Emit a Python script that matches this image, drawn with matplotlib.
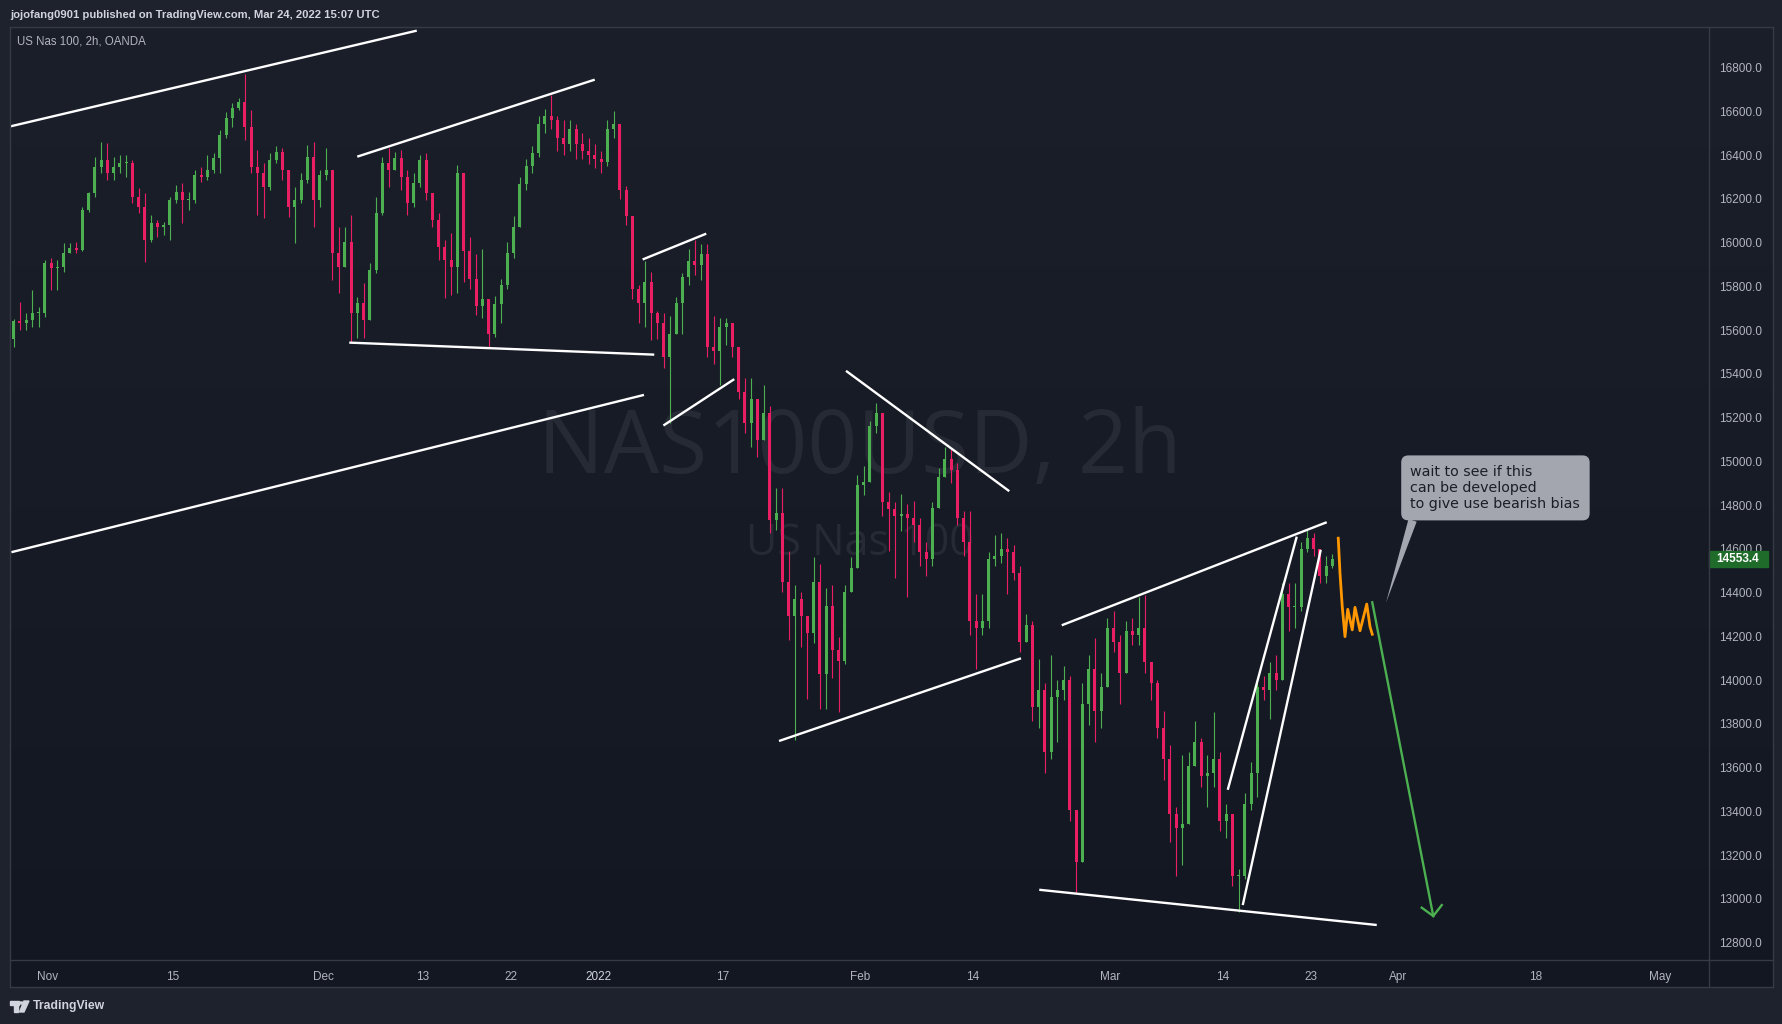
import numpy as np
import pandas as pd
import matplotlib
matplotlib.use("Agg")
import matplotlib.pyplot as plt
from matplotlib.patches import Rectangle, Polygon, Circle
import matplotlib.transforms as mtransforms

# ---- data: US Nas 100 (OANDA), half-day bars ----
start_day = "2021-10-27"
first_open = 15560
hi = [15650, 15730, 15677, 15784, 15708, 15921, 15928, 15921, 15997, 15997,
      16005, 16165, 16233, 16393, 16462, 16454, 16393, 16401, 16401, 16378,
      16248, 16226, 16126, 16104, 16096, 16210, 16264, 16271, 16233, 16332,
      16347, 16401, 16408, 16515, 16599, 16637, 16660, 16771, 16606, 16424,
      16363, 16408, 16442, 16431, 16317, 16256, 16317, 16447, 16462, 16332,
      16431, 16317, 16073, 16073, 16126, 15753, 15814, 15906, 16210, 16393,
      16431, 16416, 16424, 16332, 16317, 16401, 16408, 16226, 16134, 16012,
      16043, 16355, 16300, 16025, 15947, 15970, 15726, 15758, 15836, 16002,
      16120, 16300, 16380, 16440, 16580, 16610, 16675, 16580, 16560, 16560,
      16540, 16500, 16480, 16450, 16420, 16560, 16600, 16540, 16260, 16120,
      15805, 15915, 15867, 15687, 15679, 15663, 15750, 15860, 15970, 16010,
      15993, 15993, 15663, 15656, 15656, 15632, 15490, 15380, 15380, 15254,
      15349, 15254, 14877, 14877, 14592, 14435, 14403, 14277, 14561, 14529,
      14420, 14435, 14199, 14435, 14561, 14939, 14979, 15183, 15269, 15175,
      14860, 14814, 14852, 14805, 14821, 14743, 14632, 14813, 14970, 15065,
      15057, 14994, 14774, 14774, 14396, 14396, 14585, 14663, 14671, 14648,
      14617, 14522, 14302, 14270, 14097, 13986, 14113, 14002, 14065, 14019,
      13405, 13986, 14113, 14191, 14034, 14286, 14317, 14207, 14270, 14286,
      14380, 14388, 14065, 14002, 13860, 13703, 13420, 13656, 13672, 13814,
      13734, 13656, 13853, 13672, 13436, 13279, 13136, 13483, 13625, 14002,
      14019, 14082, 14113, 14443, 14443, 14443, 14632, 14687, 14671, 14600,
      14569, 14577]
lo = [15525, 15600, 15600, 15616, 15616, 15660, 15784, 15784, 15868, 15951,
      15951, 15960, 16140, 16210, 16317, 16286, 16286, 16317, 16302, 16180,
      16134, 15913, 16005, 16027, 16035, 16012, 16180, 16088, 16149, 16180,
      16279, 16286, 16317, 16317, 16480, 16530, 16606, 16469, 16317, 16126,
      16111, 16240, 16363, 16286, 16119, 15997, 16180, 16271, 16073, 16165,
      16286, 15829, 15768, 15906, 15540, 15563, 15563, 15646, 15860, 16126,
      16256, 16332, 16241, 16126, 16165, 16256, 16195, 16073, 15921, 15746,
      15761, 15768, 15821, 15789, 15671, 15656, 15521, 15569, 15632, 15789,
      15930, 16080, 16240, 16320, 16390, 16500, 16520, 16420, 16400, 16420,
      16380, 16380, 16360, 16340, 16320, 16350, 16480, 16200, 16080, 15742,
      15632, 15616, 15553, 15561, 15427, 15175, 15584, 15584, 15805, 15852,
      15828, 15475, 15443, 15349, 15530, 15475, 15286, 15128, 15065, 15018,
      15097, 14671, 14688, 14403, 14183, 13727, 14152, 13916, 14168, 13868,
      13868, 14011, 13853, 14073, 14420, 14514, 14845, 15002, 15128, 14751,
      14592, 14466, 14680, 14380, 14632, 14522, 14475, 14522, 14789, 14947,
      14900, 14711, 14569, 14207, 14050, 14207, 14239, 14522, 14537, 14396,
      14459, 14128, 14223, 13814, 13782, 13577, 13640, 13719, 13908, 13357,
      13027, 13168, 13797, 13719, 13782, 14050, 14128, 13892, 14034, 14160,
      14160, 14034, 13908, 13734, 13546, 13262, 13105, 13153, 13342, 13640,
      13514, 13420, 13514, 13310, 13279, 13058, 12940, 13090, 13405, 13467,
      13908, 13821, 13955, 14113, 14223, 14239, 14317, 14585, 14569, 14443,
      14443, 14514]
cl = [15640, 15631, 15646, 15677, 15677, 15906, 15883, 15890, 15951, 15974,
      15966, 16149, 16226, 16347, 16378, 16317, 16347, 16363, 16363, 16210,
      16165, 16012, 16088, 16073, 16081, 16195, 16233, 16195, 16195, 16309,
      16302, 16332, 16385, 16492, 16568, 16614, 16645, 16530, 16347, 16317,
      16256, 16378, 16416, 16332, 16165, 16195, 16286, 16393, 16195, 16309,
      16332, 15951, 15890, 16005, 15677, 15723, 15646, 15875, 16134, 16363,
      16332, 16385, 16302, 16180, 16271, 16378, 16226, 16104, 15982, 15921,
      15890, 16317, 15962, 15836, 15710, 15742, 15584, 15719, 15805, 15954,
      16073, 16270, 16350, 16410, 16540, 16580, 16560, 16480, 16450, 16520,
      16450, 16420, 16400, 16380, 16370, 16520, 16540, 16240, 16120, 15789,
      15726, 15821, 15679, 15632, 15475, 15584, 15726, 15845, 15915, 15899,
      15947, 15521, 15506, 15616, 15632, 15521, 15317, 15175, 15286, 15097,
      15223, 14734, 14766, 14451, 14294, 14372, 14294, 14215, 14451, 14026,
      14340, 14136, 14089, 14403, 14514, 14892, 14908, 15160, 15223, 14814,
      14782, 14751, 14758, 14743, 14711, 14585, 14554, 14789, 14931, 15010,
      14963, 14743, 14632, 14270, 14239, 14270, 14554, 14569, 14600, 14585,
      14491, 14176, 14254, 13877, 13955, 13671, 13923, 13955, 14002, 13405,
      13168, 13892, 14050, 13860, 13971, 14239, 14176, 14034, 14223, 14207,
      14239, 14082, 13986, 13782, 13640, 13388, 13325, 13342, 13609, 13719,
      13562, 13577, 13640, 13357, 13388, 13105, 13105, 13436, 13577, 13971,
      13955, 14034, 14002, 14396, 14333, 14333, 14600, 14648, 14600, 14474,
      14522, 14553.4]
last_price = 14553.4

# drawn trendlines, (day position, price) pairs
trendlines = [
    ((-3.04, 16531), (29.5, 16969)),
    ((24.74, 16393), (43.74, 16745)),
    ((24.1, 15543), (48.5, 15488)),
    ((-2.93, 14585), (47.68, 15304)),
    ((47.57, 15923), (52.66, 16041)),
    ((49.23, 15164), (54.9, 15376)),
    ((63.84, 15414), (76.9, 14864)),
    ((58.48, 13722), (77.84, 14100)),
    ((81.1, 14251), (102.3, 14722)),
    ((79.3, 13042), (106.3, 12881)),
    ((94.38, 13499), (99.9, 14656)),
    ((95.58, 12972), (101.82, 14596)),
]
proj_x = [103.22, 103.36, 103.54, 103.76, 103.98, 104.34, 104.56, 104.96, 105.5, 105.76, 105.94]
proj_p = [14649, 14489, 14336, 14199, 14324, 14230, 14333, 14226, 14348, 14245, 14210]
arrow_from = (105.94, 14356)
arrow_to = (110.82, 12922)
arrow_wings = [(109.9, 12960), (110.82, 12922), (111.5, 12972)]
note = "wait to see if this\ncan be developed\nto give use bearish bias"
note_tip = (107.04, 14354)

tick_dates = ["2021-11-01", "2021-11-15", "2021-12-01", "2021-12-13", "2021-12-22",
              "2022-01-03", "2022-01-17", "2022-02-01", "2022-02-14", "2022-03-01",
              "2022-03-14", "2022-03-23", "2022-04-01", "2022-04-18", "2022-05-02"]
tick_text = ["Nov", "15", "Dec", "13", "22", "2022", "17", "Feb", "14", "Mar",
             "14", "23", "Apr", "18", "May"]

# ---- calendar: business days, Dec 24 closed; Nov 1 at position 0 ----
cal = pd.bdate_range(start_day, "2022-05-31")
cal = cal[cal != pd.Timestamp("2021-12-24")]
day_x = pd.Series(np.arange(len(cal)) - 3.0, index=cal)

n = len(cl)
bar_x = (np.repeat(day_x.values, 2) + np.tile([0.25, 0.75], len(day_x)))[:n]
cl_a = np.array(cl, dtype=float)
op_a = np.concatenate([[first_open], cl_a[:-1]])
hi_a = np.maximum(np.array(hi, dtype=float), np.maximum(op_a, cl_a))
lo_a = np.minimum(np.array(lo, dtype=float), np.minimum(op_a, cl_a))
up = cl_a >= op_a

W, H = 1783, 1024
BG_OUT = "#1e222d"
LINE = "#363a45"
TXT = "#b2b5be"
GREEN = "#4caf50"
PINK = "#e91e63"

fig = plt.figure(figsize=(W / 100, H / 100), dpi=100, facecolor=BG_OUT)

def rect(x0, y0, x1, y1):
    return [x0 / W, 1 - y1 / H, (x1 - x0) / W, (y1 - y0) / H]

# chart frame background with soft vertical gradient
bg = fig.add_axes(rect(9.6, 26.7, 1773, 987))
grad = np.linspace(0, 1, 256)[:, None]
top_c = np.array([27, 31, 42]) / 255
bot_c = np.array([19, 23, 34]) / 255
img = top_c[None, None, :] * (1 - grad[:, :, None]) + bot_c[None, None, :] * grad[:, :, None]
bg.imshow(img, aspect="auto", extent=[0, 1, 0, 1])
bg.set_axis_off()

ax = fig.add_axes(rect(10, 26.7, 1709, 960))
ax.set_facecolor("none")
for s in ax.spines.values():
    s.set_visible(False)
ax.set_xlim(-3.04, 132.88)
ax.set_ylim(12721, 16987)

# watermark
wm = dict(color="#262a35", ha="center", va="baseline", family=["Open Sans", "DejaVu Sans"],
          transform=ax.transAxes, zorder=0)
ax.text(0.5, (960 - 473) / 933.3, "NAS100USD, 2h", fontsize=63, **wm)
ax.text(0.5, (960 - 555) / 933.3, "US Nas 100", fontsize=31, **wm)

# candles
cols = np.where(up, GREEN, PINK)
ax.vlines(bar_x, lo_a, hi_a, colors=cols, linewidth=0.8, zorder=2)
body_lo = np.minimum(op_a, cl_a)
body_h = np.maximum(np.abs(cl_a - op_a), 4)
ax.bar(bar_x, body_h, bottom=body_lo, width=0.24, color=cols, linewidth=0, zorder=2)

# trendlines
for (x0, p0), (x1, p1) in trendlines:
    ax.plot([x0, x1], [p0, p1], color="white", lw=1.7, solid_capstyle="butt", zorder=3, clip_on=True)

# projected path and arrow
ax.plot(proj_x, proj_p, color="#ff9800", lw=2.0, solid_joinstyle="round", zorder=3)
ax.plot([arrow_from[0], arrow_to[0]], [arrow_from[1], arrow_to[1]], color=GREEN, lw=1.7, zorder=3)
ax.plot([w[0] for w in arrow_wings], [w[1] for w in arrow_wings], color=GREEN, lw=1.7,
        solid_joinstyle="miter", zorder=3)

# callout
ax.annotate(note, xy=note_tip, xytext=(109.0, 14985), textcoords="data",
            ha="left", va="top", fontsize=10.3, color="#1b1e27", linespacing=1.2,
            family=["DejaVu Sans"], zorder=5,
            bbox=dict(boxstyle="round,pad=0.65,rounding_size=0.5", fc="#a3a6af", ec="none"),
            arrowprops=dict(arrowstyle="wedge,tail_width=0.6,shrink_factor=0.5", fc="#a3a6af",
                            ec="none", relpos=(0.03, 0.0), shrinkA=0, shrinkB=0))

# price axis
yt = np.arange(12800, 16801, 200)
ax.set_yticks(yt)
ax.set_yticklabels([f"{v:.1f}" for v in yt])
ax.tick_params(axis="y", left=False, right=False, labelleft=False, labelright=True,
               pad=4, labelcolor=TXT, labelsize=8.5)
for t in ax.get_yticklabels():
    t.set_family(["Liberation Sans", "DejaVu Sans"])

# time axis
ax.set_xticks([day_x[pd.Timestamp(d)] for d in tick_dates])
ax.set_xticklabels(tick_text)
ax.tick_params(axis="x", bottom=False, length=0, pad=8, labelcolor=TXT, labelsize=8.5)
for t in ax.get_xticklabels():
    t.set_family(["Liberation Sans", "DejaVu Sans"])
    if t.get_text() == "2022":
        t.set_color("#d1d4dc")

# last price badge
bt = mtransforms.blended_transform_factory(ax.transAxes, ax.transData)
ax.add_patch(Rectangle((1.0, last_price - 37), 59 / 1699, 74, transform=bt,
                       color="#1f6b2a", clip_on=False, zorder=6))
ax.text(1.0 + 7 / 1699, last_price, f"{last_price:.1f}", transform=bt, ha="left", va="center",
        color="white", fontsize=8.5, fontweight="bold", family=["Liberation Sans", "DejaVu Sans"],
        clip_on=False, zorder=7)

# pane separators and frame
def hline(y, x0, x1):
    fig.add_artist(plt.Line2D([x0 / W, x1 / W], [1 - y / H, 1 - y / H], color=LINE, lw=1))

def vline(x, y0, y1):
    fig.add_artist(plt.Line2D([x / W, x / W], [1 - y0 / H, 1 - y1 / H], color=LINE, lw=1))

hline(960, 9.6, 1773)
vline(1709, 26.7, 987)
hline(26.7, 9.6, 1773)
hline(987, 9.6, 1773)
vline(9.6, 26.7, 987)
vline(1773, 26.7, 987)

# header, legend, footer
fig.text(10 / W, 1 - 15 / H, "jojofang0901 published on TradingView.com, Mar 24, 2022 15:07 UTC",
         color="#d1d4dc", fontsize=8.1, fontweight="bold", va="center", ha="left",
         family=["Liberation Sans", "DejaVu Sans"])
fig.text(17 / W, 1 - 42 / H, "US Nas 100, 2h, OANDA", color="#b2b5be", fontsize=8.3,
         va="center", ha="left", family=["Liberation Sans", "DejaVu Sans"])

logo_c = "#d1d4dc"
fig.add_artist(Rectangle((10 / W, 1 - 1005 / H), 9 / W, 4 / H, color=logo_c))
fig.add_artist(Rectangle((14 / W, 1 - 1012 / H), 4 / W, 10 / H, color=logo_c))
fig.add_artist(Polygon([(24 / W, 1 - 1001 / H), (29 / W, 1 - 1001 / H),
                        (24 / W, 1 - 1012 / H), (19.5 / W, 1 - 1012 / H)], closed=True, color=logo_c))
fig.add_artist(Circle((21.5 / W, 1 - 1003 / H), 1.8 / W, color=logo_c))
fig.text(33 / W, 1 - 1006.5 / H, "TradingView", color=logo_c, fontsize=8.8, va="center", ha="left",
         fontweight="semibold", family=["Liberation Sans", "DejaVu Sans"])

fig.savefig("out.png", dpi=100, facecolor=BG_OUT)
